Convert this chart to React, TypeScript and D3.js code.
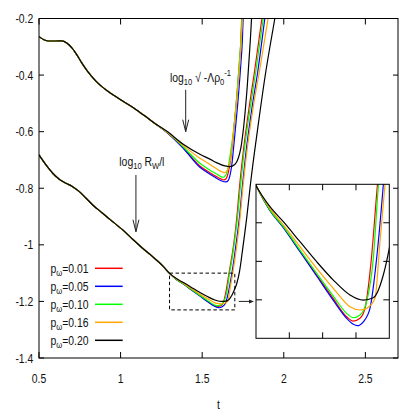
import React from "react";
import * as d3 from "d3";

type P = [number, number];

// upper family: log10 sqrt(-Lambda rho0^-1)
const upperCommon: P[] = [
  [0.5, -0.264], [0.53, -0.275], [0.56, -0.2795], [0.6, -0.2795], [0.64, -0.279], [0.67, -0.287],
  [0.7, -0.303], [0.73, -0.327], [0.76, -0.355], [0.79, -0.381], [0.82, -0.403], [0.85, -0.422],
  [0.88, -0.438], [0.92, -0.456], [0.96, -0.472], [1.0, -0.487], [1.05, -0.505], [1.1, -0.524],
  [1.15, -0.545], [1.2, -0.567],
];
const upperRed: P[] = [
  [1.282, -0.601], [1.384, -0.657], [1.486, -0.7212], [1.55, -0.746], [1.588, -0.759], [1.615, -0.767],
  [1.633, -0.7707], [1.648, -0.765], [1.66, -0.745], [1.672, -0.707], [1.682, -0.662], [1.691, -0.612],
  [1.711, -0.485], [1.728, -0.36], [1.737, -0.28], [1.742, -0.2], [1.746, -0.12],
];
const upperBlue: P[] = [
  [1.282, -0.602], [1.384, -0.6587], [1.486, -0.7258], [1.55, -0.751], [1.588, -0.7647], [1.62, -0.7745],
  [1.645, -0.7777], [1.66, -0.772], [1.67, -0.755], [1.68, -0.724], [1.69, -0.672], [1.7, -0.612],
  [1.72, -0.487], [1.737, -0.36], [1.746, -0.28], [1.751, -0.2], [1.755, -0.12],
];
const upperGreen: P[] = [
  [1.282, -0.6005], [1.384, -0.654], [1.486, -0.7117], [1.55, -0.737], [1.588, -0.7495], [1.61, -0.7575],
  [1.629, -0.7611], [1.645, -0.753], [1.66, -0.7237], [1.676, -0.6647], [1.69, -0.6057], [1.71, -0.488],
  [1.727, -0.36], [1.737, -0.28], [1.744, -0.2], [1.748, -0.12],
];
const upperOrange: P[] = [
  [1.282, -0.6], [1.384, -0.6488], [1.486, -0.694], [1.55, -0.717], [1.588, -0.7307], [1.615, -0.7405],
  [1.639, -0.7449], [1.657, -0.7336], [1.673, -0.7], [1.682, -0.66], [1.691, -0.6057], [1.712, -0.488],
  [1.73, -0.36], [1.739, -0.28], [1.746, -0.2], [1.75, -0.12],
];
const upperBlack: P[] = [
  [1.282, -0.598], [1.384, -0.6445], [1.486, -0.68], [1.55, -0.698], [1.588, -0.7095], [1.639, -0.7212],
  [1.67, -0.7237], [1.7, -0.7159], [1.7217, -0.6929], [1.737, -0.6576], [1.7553, -0.5763], [1.7768, -0.435],
  [1.7951, -0.276], [1.8025, -0.2], [1.8074, -0.15],
];

// lower family: log10 R_W / l
const lowerCommon: P[] = [
  [0.5, -0.6823], [0.543, -0.7177], [0.584, -0.747], [0.624, -0.7682], [0.665, -0.7823], [0.706, -0.7943],
  [0.747, -0.812], [0.788, -0.8353], [0.829, -0.859], [0.89, -0.8883], [0.951, -0.918], [1.013, -0.9473],
  [1.074, -0.9802], [1.135, -1.012], [1.196, -1.0417], [1.258, -1.0746],
];
const lowerRed: P[] = [
  [1.3, -1.101], [1.342, -1.1225], [1.382, -1.137], [1.432, -1.1578], [1.482, -1.1785], [1.532, -1.199],
  [1.572, -1.2146], [1.592, -1.2184], [1.612, -1.216], [1.627, -1.2074], [1.645, -1.168], [1.663, -1.105],
  [1.678, -1.055], [1.695, -0.99], [1.712, -0.905], [1.728, -0.8], [1.75, -0.68], [1.79, -0.505],
  [1.82, -0.39], [1.866, -0.2], [1.88, -0.14],
];
const lowerBlue: P[] = [
  [1.3, -1.101], [1.342, -1.1228], [1.382, -1.1375], [1.432, -1.1584], [1.482, -1.1794], [1.532, -1.2005],
  [1.572, -1.216], [1.592, -1.2212], [1.604, -1.2224], [1.622, -1.219], [1.642, -1.2074], [1.662, -1.1641],
  [1.682, -1.1006], [1.698, -1.04], [1.714, -0.97], [1.729, -0.9], [1.745, -0.8], [1.767, -0.68],
  [1.808, -0.505], [1.84, -0.39], [1.884, -0.2], [1.898, -0.14],
];
const lowerGreen: P[] = [
  [1.3, -1.101], [1.342, -1.1223], [1.382, -1.1367], [1.432, -1.1569], [1.482, -1.177], [1.532, -1.1968],
  [1.572, -1.2117], [1.592, -1.2155], [1.612, -1.2132], [1.632, -1.2016], [1.652, -1.1641], [1.667, -1.102],
  [1.683, -1.05], [1.7, -0.98], [1.717, -0.9], [1.733, -0.8], [1.755, -0.68], [1.797, -0.505],
  [1.828, -0.39], [1.874, -0.2], [1.888, -0.14],
];
const lowerOrange: P[] = [
  [1.3, -1.101], [1.342, -1.1208], [1.382, -1.1352], [1.432, -1.154], [1.482, -1.1727], [1.532, -1.19],
  [1.582, -1.206], [1.612, -1.2088], [1.632, -1.2074], [1.657, -1.1987], [1.672, -1.1497], [1.687, -1.1006],
  [1.702, -1.045], [1.717, -0.98], [1.732, -0.905], [1.749, -0.8], [1.772, -0.68], [1.815, -0.505],
  [1.85, -0.39], [1.904, -0.2], [1.918, -0.15],
];
const lowerBlack: P[] = [
  [1.3, -1.101], [1.342, -1.1194], [1.382, -1.1324], [1.432, -1.1497], [1.482, -1.167], [1.532, -1.1829],
  [1.582, -1.1958], [1.622, -1.2002], [1.652, -1.1982], [1.682, -1.1785], [1.7, -1.1554], [1.7125, -1.1357],
  [1.73, -1.09], [1.7474, -1.018], [1.7737, -0.9004], [1.7964, -0.7823], [1.84, -0.59], [1.8858, -0.4032],
  [1.9452, -0.2], [1.96, -0.15],
];

const seriesLabels = ["0.01", "0.05", "0.10", "0.16", "0.20"];
const seriesColors = ["#ff0000", "#0000ff", "#00ff00", "#ffa500", "#000000"];
const upperTails = [upperRed, upperBlue, upperGreen, upperOrange, upperBlack];
const lowerTails = [lowerRed, lowerBlue, lowerGreen, lowerOrange, lowerBlack];

const xTicks = [0.5, 1, 1.5, 2, 2.5];
const xTickLabels = ["0.5", "1", "1.5", "2", "2.5"];
const yTicks = [-1.4, -1.2, -1, -0.8, -0.6, -0.4, -0.2];
const yTickLabels = ["-1.4", "-1.2", "-1", "-0.8", "-0.6", "-0.4", "-0.2"];
const insetXTicks = [1.4, 1.5, 1.6];
const insetYTicks = [-1.2, -1.1667, -1.1333];

const FONT = "'Liberation Sans', Arial, sans-serif";

function Txt(props: { x: number; y: number; anchor?: string; size?: number; children: any }) {
  const { x, y, anchor = "start", size = 13, children } = props;
  return (
    <text
      transform={`translate(${x},${y}) scale(0.8,1)`}
      textAnchor={anchor}
      fontSize={size}
      fontFamily={FONT}
      fill="#111"
    >
      {children}
    </text>
  );
}

export default function App() {
  const W = 415;
  const H = 415;
  const x = d3.scaleLinear().domain([0.5, 2.7]).range([39, 398]);
  const y = d3.scaleLinear().domain([-1.4, -0.2]).range([358, 18.5]);
  const xi = d3.scaleLinear().domain([1.3, 1.7]).range([256, 389.3]);
  const yi = d3.scaleLinear().domain([-1.2333, -1.1]).range([338.3, 184.3]);

  const lineMain = d3
    .line<P>()
    .x((d) => x(d[0]))
    .y((d) => y(d[1]))
    .curve(d3.curveMonotoneX);
  const lineInset = d3
    .line<P>()
    .x((d) => xi(d[0]))
    .y((d) => yi(d[1]))
    .curve(d3.curveMonotoneX);

  const series = seriesLabels.map((label, i) => ({
    label,
    color: seriesColors[i],
    upper: [...upperCommon, ...upperTails[i]],
    lower: [...lowerCommon, ...lowerTails[i]],
  }));

  const [x0, x1] = x.range();
  const [yb, yt] = y.range();
  const [ix0, ix1] = xi.range();
  const [iyb, iyt] = yi.range();

  // annotation anchor positions (data coordinates)
  const upArrowX = x(1.399);
  const upArrowTop = y(-0.452);
  const upArrowTip = y(-0.6);
  const loArrowX = x(1.094);
  const loArrowTop = y(-0.753);
  const loArrowTip = y(-0.9536);

  const boxX0 = x(1.3);
  const boxX1 = x(1.7);
  const boxY0 = y(-1.1);
  const boxY1 = y(-1.23);
  const smallArrowY = y(-1.2);

  const legendX = 88.5;
  const legendLineX0 = 95;
  const legendLineX1 = 122.7;
  const legendY0 = 268.3;
  const legendDy = 18;

  return (
    <svg
      width={W}
      height={H}
      viewBox={`0 0 ${W} ${H}`}
      style={{ position: "absolute", left: 0, top: 0, background: "#fff" }}
    >
      <defs>
        <clipPath id="mainClip">
          <rect x={x0} y={yt} width={x1 - x0} height={yb - yt} />
        </clipPath>
        <clipPath id="insetClip">
          <rect x={ix0} y={iyt} width={ix1 - ix0} height={iyb - iyt} />
        </clipPath>
      </defs>
      <rect x={0} y={0} width={W} height={H} fill="#fff" />

      {/* curves */}
      <g clipPath="url(#mainClip)" fill="none" strokeWidth={1.2}>
        {series.map((s) => (
          <g key={s.label}>
            <path d={lineMain(s.upper) || ""} stroke={s.color} />
            <path d={lineMain(s.lower) || ""} stroke={s.color} />
          </g>
        ))}
      </g>

      {/* main frame */}
      <rect x={x0} y={yt} width={x1 - x0} height={yb - yt} fill="none" stroke="#000" strokeWidth={1} />
      {xTicks.map((t) => (
        <g key={"xt" + t} stroke="#000" strokeWidth={1}>
          <line x1={x(t)} x2={x(t)} y1={yb} y2={yb - 6} />
          <line x1={x(t)} x2={x(t)} y1={yt} y2={yt + 6} />
        </g>
      ))}
      {yTicks.map((v) => (
        <g key={"yt" + v} stroke="#000" strokeWidth={1}>
          <line x1={x0} x2={x0 + 5} y1={y(v)} y2={y(v)} />
          <line x1={x1} x2={x1 - 5} y1={y(v)} y2={y(v)} />
        </g>
      ))}
      {xTicks.map((t, i) => (
        <Txt key={"xl" + t} x={x(t)} y={yb + 24.7} anchor="middle">
          {xTickLabels[i]}
        </Txt>
      ))}
      {yTicks.map((v, i) => (
        <Txt key={"yl" + v} x={33.3} y={y(v) + 4.6} anchor="end">
          {yTickLabels[i]}
        </Txt>
      ))}
      <Txt x={(x0 + x1) / 2} y={409} anchor="middle">
        t
      </Txt>

      {/* annotations */}
      <Txt x={170} y={81.7}>
        log
        <tspan fontSize={9.5} dy={3}>
          10
        </tspan>
        <tspan dy={-3}> √ -Λρ</tspan>
        <tspan fontSize={9.5} dy={3}>
          0
        </tspan>
        <tspan fontSize={9.5} dy={-9}>
          -1
        </tspan>
      </Txt>
      <g stroke="#222" strokeWidth={1} fill="none">
        <line x1={upArrowX} x2={upArrowX} y1={upArrowTop} y2={upArrowTip} />
        <path d={`M${upArrowX - 3},${upArrowTip - 12} L${upArrowX},${upArrowTip} L${upArrowX + 3},${upArrowTip - 12}`} />
      </g>
      <Txt x={119.3} y={166}>
        log
        <tspan fontSize={9.5} dy={3}>
          10
        </tspan>
        <tspan dy={-3}> R</tspan>
        <tspan fontSize={9.5} dy={3}>
          W
        </tspan>
        <tspan dy={-3}>/l</tspan>
      </Txt>
      <g stroke="#222" strokeWidth={1} fill="none">
        <line x1={loArrowX} x2={loArrowX} y1={loArrowTop} y2={loArrowTip} />
        <path d={`M${loArrowX - 3},${loArrowTip - 12} L${loArrowX},${loArrowTip} L${loArrowX + 3},${loArrowTip - 12}`} />
      </g>

      {/* dashed zoom box */}
      <rect
        x={boxX0}
        y={boxY0}
        width={boxX1 - boxX0}
        height={boxY1 - boxY0}
        fill="none"
        stroke="#000"
        strokeWidth={1}
        strokeDasharray="3.5,2.5"
      />
      <line x1={boxX1 + 4} x2={ix0 - 6} y1={smallArrowY} y2={smallArrowY} stroke="#222" strokeWidth={1} />
      <path
        d={`M${ix0 - 2},${smallArrowY} L${ix0 - 7},${smallArrowY - 2} L${ix0 - 7},${smallArrowY + 2} Z`}
        fill="#222"
      />

      {/* legend */}
      {series.map((s, i) => {
        const ly = legendY0 + i * legendDy;
        return (
          <g key={"lg" + s.label}>
            <Txt x={legendX} y={ly + 4.6} anchor="end">
              p
              <tspan fontSize={9.5} dy={3}>
                ω
              </tspan>
              <tspan dy={-3}>={s.label}</tspan>
            </Txt>
            <line x1={legendLineX0} x2={legendLineX1} y1={ly} y2={ly} stroke={s.color} strokeWidth={1.5} />
          </g>
        );
      })}

      {/* inset */}
      <rect x={ix0} y={iyt} width={ix1 - ix0} height={iyb - iyt} fill="#fff" />
      <g clipPath="url(#insetClip)" fill="none" strokeWidth={1.2}>
        {series.map((s) => (
          <path key={"in" + s.label} d={lineInset(s.lower) || ""} stroke={s.color} />
        ))}
      </g>
      <rect x={ix0} y={iyt} width={ix1 - ix0} height={iyb - iyt} fill="none" stroke="#000" strokeWidth={1} />
      {insetXTicks.map((t) => (
        <g key={"ixt" + t} stroke="#000" strokeWidth={1}>
          <line x1={xi(t)} x2={xi(t)} y1={iyb} y2={iyb - 6} />
          <line x1={xi(t)} x2={xi(t)} y1={iyt} y2={iyt + 6} />
        </g>
      ))}
      {insetYTicks.map((v) => (
        <g key={"iyt" + v} stroke="#000" strokeWidth={1}>
          <line x1={ix0} x2={ix0 + 6} y1={yi(v)} y2={yi(v)} />
          <line x1={ix1} x2={ix1 - 6} y1={yi(v)} y2={yi(v)} />
        </g>
      ))}
    </svg>
  );
}
